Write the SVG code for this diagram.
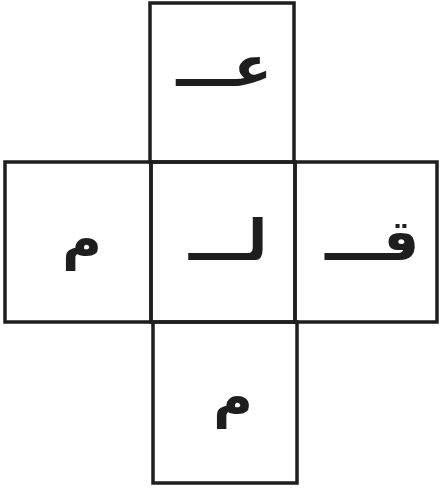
<svg xmlns="http://www.w3.org/2000/svg" width="440" height="490" viewBox="0 0 440 490">
<style>
.box{fill:none;stroke:#1e1e1e;stroke-width:3.5}
.t{font-family:"DejaVu Sans","Noto Sans",sans-serif;font-weight:bold;fill:#1e1e1e;text-anchor:middle}
</style>
<rect width="440" height="490" fill="#fff"/>
<g id="top"><rect class="box" x="150" y="3" width="144" height="159"/><text class="t" x="224" y="86" font-size="56">عـــ</text></g>
<g id="left"><rect class="box" x="5" y="162" width="146" height="160"/><text class="t" x="82" y="258" font-size="54">م</text></g>
<g id="center"><rect class="box" x="151" y="162" width="144" height="160"/><text class="t" x="228" y="260" font-size="56">لـــ</text></g>
<g id="right"><rect class="box" x="295" y="162" width="142" height="160"/><text class="t" x="372" y="260" font-size="56">قـــ</text></g>
<g id="bottom"><rect class="box" x="153" y="322" width="144" height="161"/><text class="t" x="233" y="416" font-size="54">م</text></g>
</svg>
